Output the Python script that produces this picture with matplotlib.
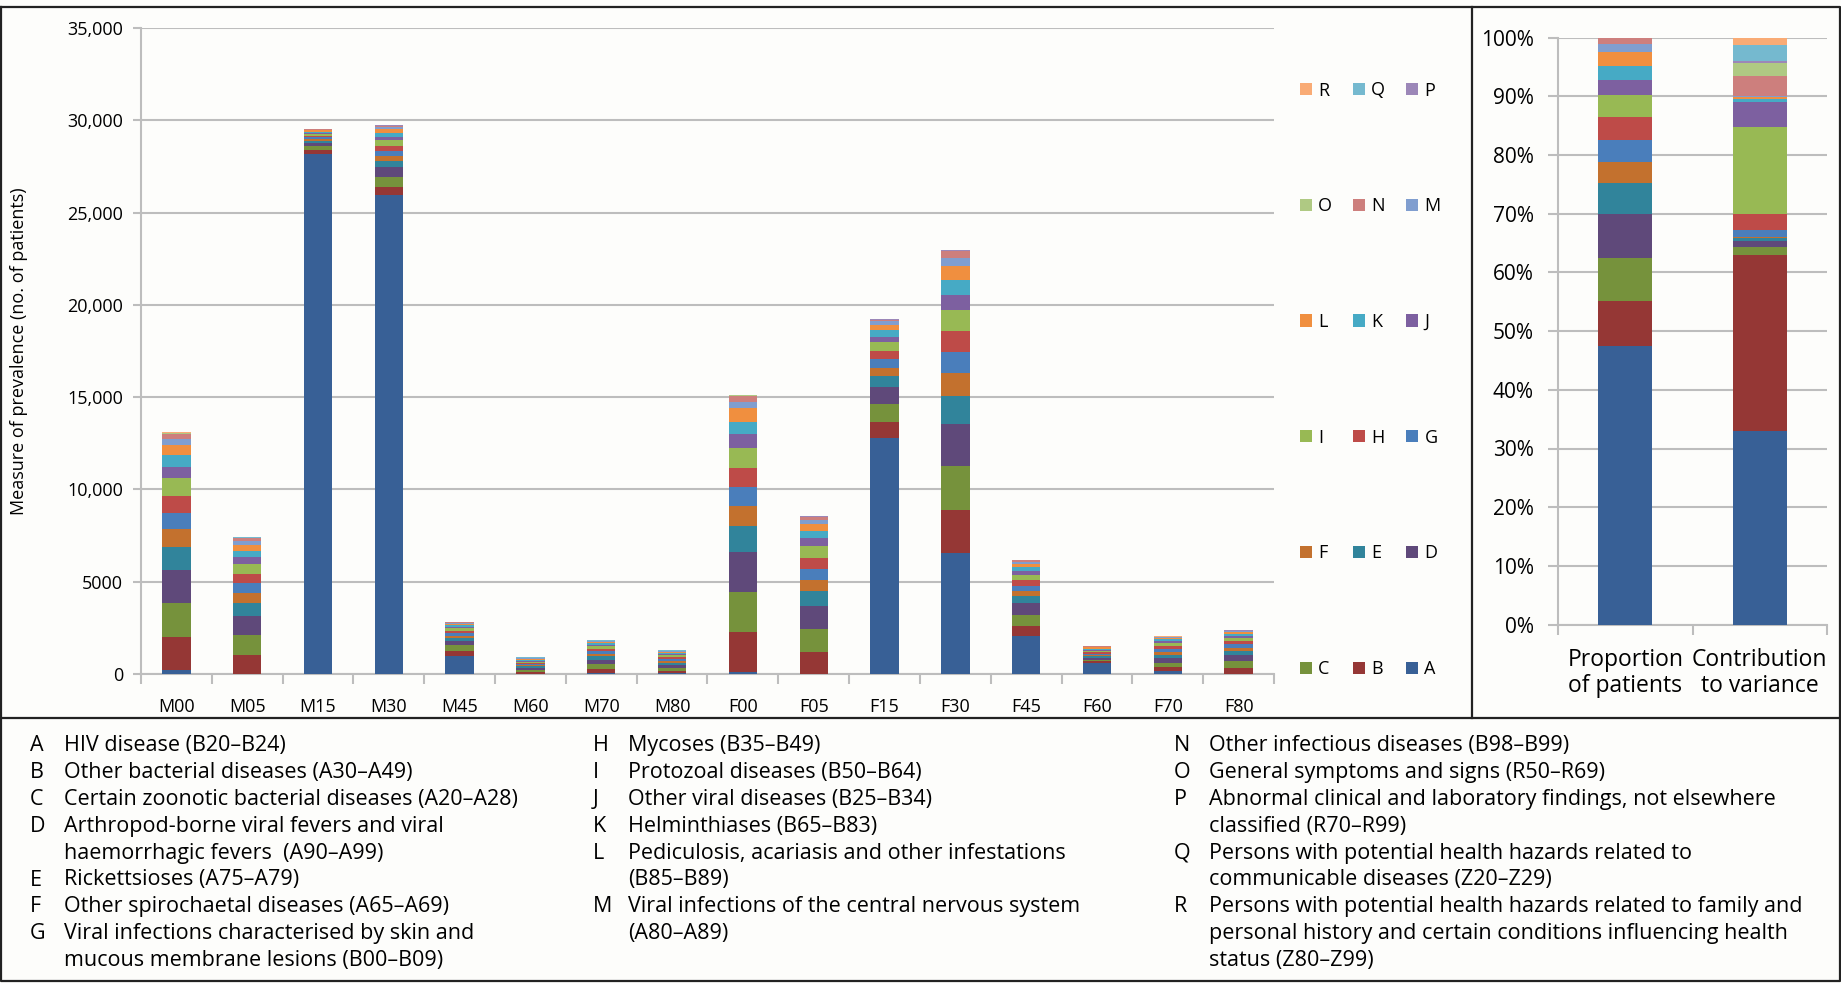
import numpy as np
import matplotlib.pyplot as plt
from matplotlib.patches import Patch
from matplotlib.lines import Line2D

groups = ['M00', 'M05', 'M15', 'M30', 'M45', 'M60', 'M70', 'M80',
          'F00', 'F05', 'F15', 'F30', 'F45', 'F60', 'F70', 'F80']
letters = list('ABCDEFGHIJKLMNOPQR')

# prevalence per group, one list per disease category (A..R)
A = [220, 0, 28200, 25950, 1000, 20, 30, 30, 125, 0, 12770, 6560, 2050, 600, 145, 20]
B = [1800, 1030, 200, 450, 260, 110, 250, 120, 2170, 1215, 890, 2320, 545, 90, 230, 330]
C = [1800, 1070, 180, 520, 300, 100, 235, 150, 2170, 1215, 960, 2390, 600, 90, 230, 330]
D = [1830, 1030, 190, 570, 220, 100, 270, 170, 2120, 1230, 905, 2265, 635, 100, 240, 330]
E = [1230, 725, 120, 330, 170, 80, 180, 130, 1410, 815, 600, 1540, 400, 90, 200, 240]
F = [960, 540, 90, 270, 130, 60, 130, 100, 1090, 600, 450, 1230, 270, 70, 150, 170]
G = [870, 540, 90, 260, 130, 60, 130, 100, 1050, 615, 490, 1160, 270, 70, 150, 180]
H = [940, 490, 90, 270, 130, 70, 140, 100, 1030, 600, 450, 1140, 325, 80, 160, 170]
I = [960, 540, 100, 300, 140, 70, 140, 110, 1090, 635, 490, 1125, 290, 80, 160, 180]
J = [580, 360, 60, 190, 80, 50, 80, 60, 760, 435, 270, 800, 200, 50, 100, 120]
K = [650, 330, 70, 210, 80, 50, 80, 70, 635, 380, 340, 815, 220, 60, 110, 120]
L = [580, 330, 60, 190, 80, 50, 80, 60, 780, 400, 280, 760, 180, 60, 80, 100]
M = [310, 220, 30, 100, 40, 30, 30, 30, 330, 200, 210, 420, 90, 30, 30, 30]
N = [300, 170, 30, 90, 40, 30, 30, 30, 310, 180, 90, 400, 90, 30, 30, 30]
O = [20, 10, 10, 10, 10, 5, 5, 5, 20, 10, 10, 20, 10, 5, 5, 5]
P = [20, 10, 10, 10, 10, 5, 5, 5, 20, 10, 10, 20, 10, 5, 5, 5]
Q = [10, 5, 5, 5, 5, 5, 5, 5, 10, 5, 5, 10, 5, 5, 5, 5]
R = [10, 5, 5, 5, 5, 5, 5, 5, 10, 5, 5, 10, 5, 5, 5, 5]
series = [A, B, C, D, E, F, G, H, I, J, K, L, M, N, O, P, Q, R]

# right panel, percent
proportion = [47.4, 7.7, 7.3, 7.6, 5.2, 3.6, 3.8, 3.8, 3.8, 2.5, 2.4, 2.5, 1.3, 1.1, 0, 0, 0, 0]
contribution = [33.0, 29.9, 1.4, 1.1, 0.4, 0.3, 1.1, 2.8, 14.7, 4.3, 0.6, 0.3, 0.2, 3.4, 2.2, 0.3, 2.8, 1.2]
right_labels = ['Proportion\nof patients', 'Contribution\nto variance']

colors = ['#386096', '#953735', '#76923c', '#5f497a', '#31849b', '#c3712e',
          '#4a7ebb', '#be4b48', '#98b954', '#7d60a0', '#46aac5', '#f08f3f',
          '#809ecf', '#cd7f7d', '#afc983', '#9c87b8', '#75b9cf', '#f9ab75']

col1 = [('A', 'HIV disease (B20–B24)'),
        ('B', 'Other bacterial diseases (A30–A49)'),
        ('C', 'Certain zoonotic bacterial diseases (A20–A28)'),
        ('D', 'Arthropod-borne viral fevers and viral'),
        ('', 'haemorrhagic fevers  (A90–A99)'),
        ('E', 'Rickettsioses (A75–A79)'),
        ('F', 'Other spirochaetal diseases (A65–A69)'),
        ('G', 'Viral infections characterised by skin and'),
        ('', 'mucous membrane lesions (B00–B09)')]
col2 = [('H', 'Mycoses (B35–B49)'),
        ('I', 'Protozoal diseases (B50–B64)'),
        ('J', 'Other viral diseases (B25–B34)'),
        ('K', 'Helminthiases (B65–B83)'),
        ('L', 'Pediculosis, acariasis and other infestations'),
        ('', '(B85–B89)'),
        ('M', 'Viral infections of the central nervous system'),
        ('', '(A80–A89)')]
col3 = [('N', 'Other infectious diseases (B98–B99)'),
        ('O', 'General symptoms and signs (R50–R69)'),
        ('P', 'Abnormal clinical and laboratory findings, not elsewhere'),
        ('', 'classified (R70–R99)'),
        ('Q', 'Persons with potential health hazards related to'),
        ('', 'communicable diseases (Z20–Z29)'),
        ('R', 'Persons with potential health hazards related to family and'),
        ('', 'personal history and certain conditions influencing health'),
        ('', 'status (Z80–Z99)')]

plt.rcParams['font.family'] = ['Open Sans', 'DejaVu Sans']
W, H_ = 1841, 983
fig = plt.figure(figsize=(W / 100, H_ / 100), dpi=100, facecolor='#fdfdfb')

def px(x0, y0, x1, y1):
    return [x0 / W, 1 - y1 / H_, (x1 - x0) / W, (y1 - y0) / H_]

grid_c = '#bdbdbd'

# ---- left stacked bars
ax = fig.add_axes(px(141, 28, 1274, 674))
ax.set_facecolor('#fdfdfb')
x = np.arange(len(groups))
bottom = np.zeros(len(groups))
for s, c in zip(series, colors):
    ax.bar(x, s, 0.4, bottom=bottom, color=c, edgecolor='none', zorder=3)
    bottom += np.array(s)
ax.set_xlim(-0.5, len(groups) - 0.5)
ax.set_ylim(0, 35000)
yt = np.arange(0, 35001, 5000)
ax.set_yticks(yt)
ax.set_yticklabels([f'{v:,}' if v >= 10000 else str(v) for v in yt], fontsize=13)
ax.yaxis.grid(True, color=grid_c, lw=1.5, zorder=0)
ax.set_xticks(x)
ax.set_xticklabels(groups, fontsize=13)
ax.set_xticks(np.arange(-0.5, len(groups)), minor=True)
ax.tick_params(axis='x', which='major', length=0, pad=17.5)
ax.tick_params(axis='x', which='minor', length=7, color=grid_c, width=1.5)
ax.tick_params(axis='y', length=6, color=grid_c, width=1.5, pad=7)
for sp in ['top', 'right']:
    ax.spines[sp].set_visible(False)
for sp in ['left', 'bottom']:
    ax.spines[sp].set_color(grid_c)
    ax.spines[sp].set_linewidth(1.5)
ax.set_ylabel('Measure of prevalence (no. of patients)', fontsize=13)
ax.yaxis.set_label_coords(-0.1, 0.5)

# legend: rows R Q P / O N M / ... / C B A
order = []
for col in range(3):
    for row in range(6):
        order.append(17 - row * 3 - col)
handles = [Patch(facecolor=colors[i], edgecolor='none') for i in order]
fig.legend(handles, [letters[i] for i in order], ncol=3, loc='upper left',
           bbox_to_anchor=(1300 / W, 1 - 81.5 / H_), frameon=False, fontsize=13,
           handlelength=0.65, handleheight=0.65, handletextpad=0.35,
           columnspacing=1.17, labelspacing=5.41, borderpad=0, borderaxespad=0)

# ---- right 100% bars
ax2 = fig.add_axes(px(1558, 37.6, 1827, 624.6))
ax2.set_facecolor('#fdfdfb')
b0 = 0.0
b1 = 0.0
for p, q, c in zip(proportion, contribution, colors):
    ax2.bar([0, 1], [p, q], 0.4, bottom=[b0, b1], color=c, edgecolor='none', zorder=3)
    b0 += p
    b1 += q
ax2.set_xlim(-0.5, 1.5)
ax2.set_ylim(0, 100)
ax2.set_yticks(np.arange(0, 101, 10))
ax2.set_yticklabels([f'{v}%' for v in range(0, 101, 10)], fontsize=15)
ax2.yaxis.grid(True, color=grid_c, lw=1.5, zorder=0)
ax2.set_xticks([0, 1])
ax2.set_xticklabels(right_labels, fontsize=16.5, linespacing=1.15)
ax2.set_xticks([-0.5, 0.5, 1.5], minor=True)
ax2.tick_params(axis='x', which='major', length=0, pad=16.5)
ax2.tick_params(axis='x', which='minor', length=7, color=grid_c, width=1.5)
ax2.tick_params(axis='y', length=7, color=grid_c, width=1.5, pad=10.5)
for sp in ['top', 'right']:
    ax2.spines[sp].set_visible(False)
for sp in ['left', 'bottom']:
    ax2.spines[sp].set_color(grid_c)
    ax2.spines[sp].set_linewidth(1.5)

# ---- frame lines
def fline(xs, ys):
    fig.add_artist(Line2D([v / W for v in xs], [1 - v / H_ for v in ys],
                          color='#222222', lw=1.6))

fline([1, 1840, 1840, 1, 1], [7, 7, 981, 981, 7])
fline([1, 1840], [718, 718])
fline([1472, 1472], [7, 718])

# ---- key table
def column(rows, xl, xt):
    for i, (let, txt) in enumerate(rows):
        y = 1 - (745.5 + i * 26.9) / H_
        if let:
            fig.text(xl / W, y, let, fontsize=15.5, va='center', ha='left')
        fig.text(xt / W, y, txt, fontsize=15.5, va='center', ha='left')

column(col1, 30, 64)
column(col2, 593, 628)
column(col3, 1174, 1209)

fig.savefig('out.png', dpi=100, facecolor=fig.get_facecolor())
